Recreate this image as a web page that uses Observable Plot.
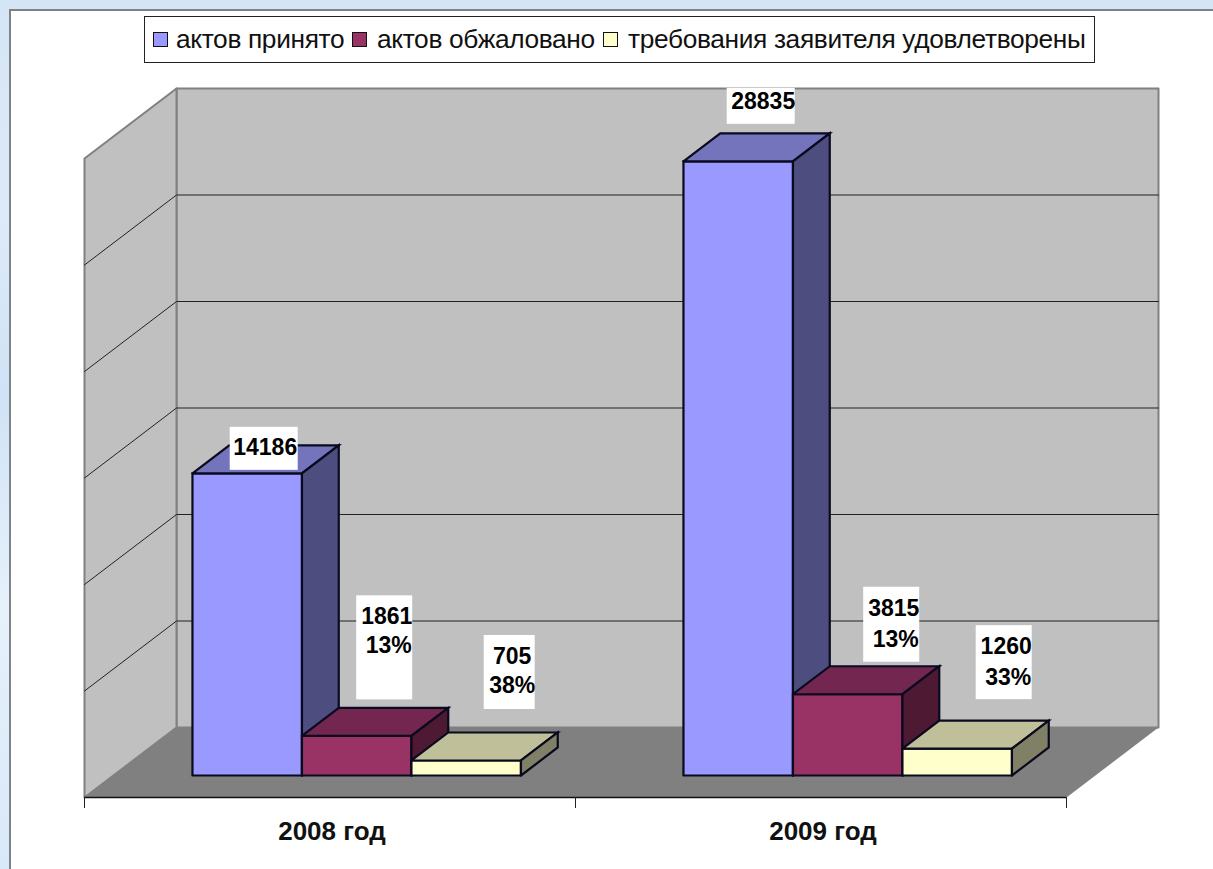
<!DOCTYPE html>
<html lang="ru">
<head>
<meta charset="utf-8">
<script src="https://cdn.jsdelivr.net/npm/d3@7"></script>
<script src="https://cdn.jsdelivr.net/npm/@observablehq/plot@0.6"></script>
<style>
  html, body { margin: 0; padding: 0; width: 1213px; height: 869px; overflow: hidden; }
  body { position: relative; background: linear-gradient(180deg, #d4e5f5 0%, #dcebf9 25%, #cfe3f6 45%, #e6f1fb 70%, #d8e9f9 100%); font-family: "Liberation Sans", Arial, sans-serif; }
  #frame { position: absolute; left: 9px; top: 9px; right: -4px; bottom: -4px; background: #fff; border: 2px solid #7f8389; }
  #legend { position: absolute; left: 144px; top: 16px; width: 949px; height: 45px; border: 1px solid #222; background: #fff; box-sizing: content-box; }
  #legend .sw { position: absolute; top: 15px; width: 13px; height: 13px; border: 1.5px solid #111; }
  #legend .lb { position: absolute; top: 7px; font-size: 26.3px; line-height: 30px; color: #111; white-space: nowrap; letter-spacing: -0.35px; }
  #chart { position: absolute; left: 0; top: 70px; }
</style>
</head>
<body>
<div id="frame"></div>
<div id="legend"></div>
<div id="chart"></div>
<script>
// ---- data ----
const years = ["2008 год", "2009 год"];
const seriesNames = ["актов принято", "актов обжаловано", "требования заявителя удовлетворены"];
const accepted = [14186, 28835];
const appealed = [1861, 3815];
const satisfied = [705, 1260];
const appealedShare = ["13%", "13%"];
const satisfiedShare = ["38%", "33%"];
const valueTicks = [0, 5000, 10000, 15000, 20000, 25000, 30000];

// ---- styling ----
const frontColors = ["#9999ff", "#993366", "#ffffcc"];
const topColors = ["#7474bd", "#732650", "#bfbf99"];
const sideColors = ["#4d4d80", "#4d1933", "#808066"];
const wallColor = "#c0c0c0", floorColor = "#808080", wallEdge = "#808080";

// ---- 3-D layout: depth 0 = front plane, depth 1 = back wall ----
const W = 1213, H = 799;
const margin = {top: 88, right: 147, bottom: 72, left: 84};
const xPerPx = 2 / (W - margin.left - margin.right);
const yPerPx = 30000 / (H - margin.top - margin.bottom);
const depthX = 92 * xPerPx, depthY = 70 * yPerPx;
const barStart = 0.161, barWidth = 0.223, d0 = 22 / 70, d1 = 50 / 70;
const P = (x, v, d) => ({x: x + d * depthX, y: v + d * depthY});
const poly = (id, c, pts) => [...pts, pts[0]].map(p => ({id, c, ...P(...p)}));

const series = [accepted, appealed, satisfied];

// walls and floor
const walls = [
  ...poly("back", wallColor, [[0,0,1],[2,0,1],[2,30000,1],[0,30000,1]]),
  ...poly("left", wallColor, [[0,0,0],[0,0,1],[0,30000,1],[0,30000,0]])
];
const floor = poly("floor", floorColor, [[0,0,0],[2,0,0],[2,0,1],[0,0,1]]);
const grid = valueTicks.slice(1, -1).flatMap(v =>
  [[0,v,0],[0,v,1],[2,v,1]].map(p => ({id: v, ...P(...p)})));

// bars
const boxes = [];
years.forEach((_, c) => series.forEach((vals, s) => {
  const a = c + barStart + s * barWidth, b = a + barWidth, v = vals[c], id = `${c}-${s}`;
  boxes.push(
    ...poly(id + "f", frontColors[s], [[a,0,d0],[b,0,d0],[b,v,d0],[a,v,d0]]),
    ...poly(id + "t", topColors[s], [[a,v,d0],[b,v,d0],[b,v,d1],[a,v,d1]]),
    ...poly(id + "s", sideColors[s], [[b,0,d0],[b,0,d1],[b,v,d1],[b,v,d0]])
  );
}));

// data labels: pixel offsets from the top-front centre of each bar
// box: [left, right, top, bottom]; lines: [dx, dy] for each text line
const labelPlacement = {
  "0-0": {box: [-17, 51, -46, -3], lines: [[18, -26]]},
  "1-0": {box: [-11, 57, -73, -37], lines: [[25, -60]]},
  "0-1": {box: [0, 56, -140, -36], lines: [[30, -119], [32, -90]]},
  "1-1": {box: [16, 72, -107, -32], lines: [[46, -86], [48, -55]]},
  "0-2": {box: [18, 69, -125, -51], lines: [[46, -104], [46, -75]]},
  "1-2": {box: [19, 75, -123, -49], lines: [[49, -102], [51, -71]]}
};
const shares = [null, appealedShare, satisfiedShare];
const labelBoxes = [], labelLines = [];
years.forEach((_, c) => series.forEach((vals, s) => {
  const place = labelPlacement[`${c}-${s}`];
  const a = P(c + barStart + (s + 0.5) * barWidth, vals[c], d0);
  const [l, r, t, bt] = place.box;
  labelBoxes.push({x1: a.x + l * xPerPx, x2: a.x + r * xPerPx, y1: a.y - t * yPerPx, y2: a.y - bt * yPerPx});
  const texts = shares[s] ? [String(vals[c]), shares[s][c]] : [String(vals[c])];
  texts.forEach((text, i) => labelLines.push({
    text, x: a.x + place.lines[i][0] * xPerPx, y: a.y - place.lines[i][1] * yPerPx
  }));
}));

// legend
const legend = document.getElementById("legend");
const swatchLeft = [8, 207, 458], textLeft = [31, 232, 483];
seriesNames.forEach((name, i) => {
  const sw = document.createElement("div");
  sw.className = "sw"; sw.style.left = swatchLeft[i] + "px"; sw.style.background = frontColors[i];
  const lb = document.createElement("div");
  lb.className = "lb"; lb.style.left = textLeft[i] + "px"; lb.textContent = name;
  legend.append(sw, lb);
});

const polyOpts = {x: "x", y: "y", z: "id", fill: "c", curve: "linear"};
const chart = Plot.plot({
  width: W, height: H,
  marginTop: margin.top, marginRight: margin.right, marginBottom: margin.bottom, marginLeft: margin.left,
  style: {background: "transparent", overflow: "visible"},
  x: {domain: [0, 2], axis: null},
  y: {domain: [0, 30000], axis: null},
  color: {type: "identity"},
  marks: [
    Plot.line(walls, {...polyOpts, stroke: wallEdge, strokeWidth: 2, strokeLinejoin: "round"}),
    Plot.line(floor, {...polyOpts, stroke: "none"}),
    Plot.line(grid, {x: "x", y: "y", z: "id", stroke: "#222", strokeWidth: 1, curve: "linear"}),
    Plot.ruleY([0], {stroke: "#111", strokeWidth: 1.5}),
    Plot.axisX({ticks: [0, 1, 2], tickSize: 11, tickFormat: () => "", stroke: "#222", strokeWidth: 1}),
    Plot.axisX({
      ticks: [0.5, 1.5], tickSize: 0, tickPadding: 24, dx: 2,
      tickFormat: d => years[Math.floor(d)],
      fontFamily: "Liberation Sans, Arial, sans-serif", fontSize: 26, fontWeight: "bold", fill: "#111",
      style: {letterSpacing: "-1px"}
    }),
    Plot.line(boxes, {...polyOpts, stroke: "#0a0a1e", strokeWidth: 2.2, strokeLinejoin: "miter", strokeMiterlimit: 4}),
    Plot.rect(labelBoxes, {x1: "x1", x2: "x2", y1: "y1", y2: "y2", fill: "#fff"}),
    Plot.text(labelLines, {
      x: "x", y: "y", text: "text",
      fontFamily: "Liberation Sans, Arial, sans-serif", fontSize: 23, fontWeight: "bold", fill: "#000",
      textAnchor: "middle", lineAnchor: "middle",
      style: {letterSpacing: "-1.5px"}
    })
  ]
});
document.getElementById("chart").append(chart);
</script>
</body>
</html>
